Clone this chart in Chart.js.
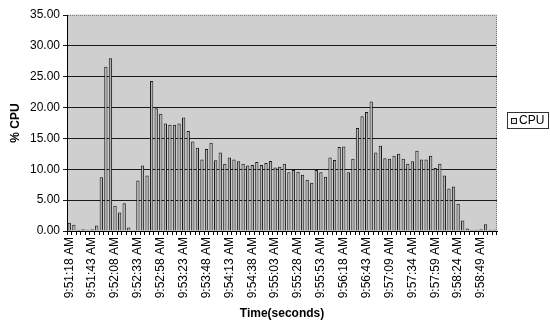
<!DOCTYPE html>
<html>
<head>
<meta charset="utf-8">
<script src="https://cdn.jsdelivr.net/npm/chart.js@4/dist/chart.umd.min.js"></script>
<style>
  html, body { margin: 0; padding: 0; background: #ffffff; }
  #wrap { width: 550px; height: 323px; }
</style>
</head>
<body>
<div id="wrap"><canvas id="cpuChart" width="550" height="323"></canvas></div>
<script>
// Sample timestamps (one sample every ~5 seconds)
const categories = [
  "9:51:18 AM","9:51:23 AM","9:51:28 AM","9:51:33 AM","9:51:38 AM",
  "9:51:43 AM","9:51:48 AM","9:51:53 AM","9:51:58 AM","9:52:03 AM",
  "9:52:08 AM","9:52:13 AM","9:52:18 AM","9:52:23 AM","9:52:28 AM",
  "9:52:33 AM","9:52:38 AM","9:52:43 AM","9:52:48 AM","9:52:53 AM",
  "9:52:58 AM","9:53:03 AM","9:53:08 AM","9:53:13 AM","9:53:18 AM",
  "9:53:23 AM","9:53:28 AM","9:53:33 AM","9:53:38 AM","9:53:43 AM",
  "9:53:48 AM","9:53:53 AM","9:53:58 AM","9:54:03 AM","9:54:08 AM",
  "9:54:13 AM","9:54:18 AM","9:54:23 AM","9:54:28 AM","9:54:33 AM",
  "9:54:38 AM","9:54:43 AM","9:54:48 AM","9:54:53 AM","9:54:58 AM",
  "9:55:03 AM","9:55:08 AM","9:55:13 AM","9:55:18 AM","9:55:23 AM",
  "9:55:28 AM","9:55:33 AM","9:55:38 AM","9:55:43 AM","9:55:48 AM",
  "9:55:53 AM","9:55:58 AM","9:56:03 AM","9:56:08 AM","9:56:13 AM",
  "9:56:18 AM","9:56:23 AM","9:56:28 AM","9:56:33 AM","9:56:38 AM",
  "9:56:43 AM","9:56:49 AM","9:56:54 AM","9:56:59 AM","9:57:04 AM",
  "9:57:09 AM","9:57:14 AM","9:57:19 AM","9:57:24 AM","9:57:29 AM",
  "9:57:34 AM","9:57:39 AM","9:57:44 AM","9:57:49 AM","9:57:54 AM",
  "9:57:59 AM","9:58:04 AM","9:58:09 AM","9:58:14 AM","9:58:19 AM",
  "9:58:24 AM","9:58:29 AM","9:58:34 AM","9:58:39 AM","9:58:44 AM",
  "9:58:49 AM","9:58:54 AM","9:58:59 AM","9:59:04 AM"
];

// % CPU per sample
const cpuValues = [
  1.35, 1.0, 0.2, 0.3, 0.2, 0.3, 0.9, 8.7, 26.6, 28.0,
  4.1, 3.0, 4.5, 0.55, 0.1, 8.2, 10.6, 9.0, 24.3, 19.9,
  19.0, 17.4, 17.2, 17.2, 17.4, 18.4, 16.2, 14.5, 13.5, 11.6,
  13.3, 14.3, 11.45, 12.7, 10.9, 11.9, 11.6, 11.3, 10.9, 10.6,
  10.7, 11.2, 10.7, 11.0, 11.35, 10.3, 10.4, 10.9, 9.5, 9.9,
  9.6, 9.1, 8.3, 7.8, 9.9, 9.5, 8.8, 11.9, 11.5, 13.6,
  13.7, 9.5, 11.7, 16.7, 18.6, 19.3, 21.0, 12.7, 13.8, 11.8,
  11.7, 12.2, 12.5, 11.7, 10.9, 11.3, 13.0, 11.6, 11.6, 12.2,
  10.2, 10.9, 9.0, 6.9, 7.2, 4.4, 1.7, 0.4, 0.2, 0.2,
  0.3, 1.1, 0.2, 0.2
];

// Time labels printed under the axis
const tickLabels = [
  "9:51:18 AM","9:51:43 AM","9:52:08 AM","9:52:33 AM","9:52:58 AM",
  "9:53:23 AM","9:53:48 AM","9:54:13 AM","9:54:38 AM","9:55:03 AM",
  "9:55:28 AM","9:55:53 AM","9:56:18 AM","9:56:43 AM","9:57:09 AM",
  "9:57:34 AM","9:57:59 AM","9:58:24 AM","9:58:49 AM"
];

const seriesName = "CPU";
const FONT = "'Liberation Sans', Arial, sans-serif";
const PLOT_BG = "#cfcfcf";

// Gray plot background, dotted top/right frame
const plotFrame = {
  id: 'plotFrame',
  beforeDraw(chart) {
    const { ctx, chartArea: a } = chart;
    ctx.save();
    ctx.fillStyle = PLOT_BG;
    ctx.fillRect(a.left, a.top, a.right - a.left, a.bottom - a.top);
    ctx.restore();
  },
  beforeDatasetsDraw(chart) {
    const { ctx, chartArea: a } = chart;
    ctx.save();
    // replace the solid top grid line with a light dotted frame line
    ctx.strokeStyle = PLOT_BG;
    ctx.lineWidth = 2;
    ctx.beginPath();
    ctx.moveTo(a.left + 1, a.top + 0.5);
    ctx.lineTo(a.right, a.top + 0.5);
    ctx.stroke();
    ctx.strokeStyle = "#7a7a7a";
    ctx.lineWidth = 1;
    ctx.setLineDash([1, 1]);
    ctx.beginPath();
    ctx.moveTo(a.left + 1, a.top + 0.5);
    ctx.lineTo(a.right - 0.5, a.top + 0.5);
    ctx.lineTo(a.right - 0.5, a.bottom);
    ctx.stroke();
    ctx.restore();
  }
};

// Boxed legend on the right
const boxLegend = {
  id: 'boxLegend',
  afterDraw(chart) {
    const { ctx } = chart;
    const ds = chart.data.datasets[0];
    const x = 507, y = 112, w = 42, h = 17;
    ctx.save();
    ctx.fillStyle = "#ffffff";
    ctx.fillRect(x, y, w, h);
    ctx.strokeStyle = "#333333";
    ctx.lineWidth = 1;
    ctx.strokeRect(x + 0.5, y + 0.5, w - 1, h - 1);
    // swatch
    ctx.fillStyle = "#e8e8e8";
    ctx.fillRect(x + 4, y + 6, 6, 6);
    ctx.strokeStyle = ds.borderColor;
    ctx.strokeRect(x + 4.5, y + 6.5, 5, 5);
    ctx.fillStyle = "#000000";
    ctx.font = "12px " + FONT;
    ctx.textBaseline = "middle";
    ctx.fillText(ds.label, x + 12, y + h / 2 + 0.5);
    ctx.restore();
  }
};

new Chart(document.getElementById('cpuChart'), {
  type: 'bar',
  data: {
    labels: categories,
    datasets: [{
      label: seriesName,
      data: cpuValues,
      backgroundColor: "#b4b4b4",
      borderColor: "#1a1a1a",
      borderWidth: 1,
      borderSkipped: 'bottom',
      barPercentage: 0.72,
      categoryPercentage: 1.0
    }]
  },
  options: {
    responsive: false,
    animation: false,
    devicePixelRatio: 1,
    layout: { padding: { left: 0, right: 53, top: 15, bottom: 0 } },
    plugins: {
      legend: { display: false },
      tooltip: { enabled: false }
    },
    scales: {
      x: {
        grid: {
          offset: true,
          drawOnChartArea: false,
          drawTicks: true,
          tickLength: 4,
          color: "#000000"
        },
        border: { color: "#000000", width: 1 },
        ticks: {
          autoSkip: false,
          maxRotation: 90,
          minRotation: 90,
          padding: 2,
          color: "#000000",
          font: { family: FONT, size: 12 },
          callback: function (value, index) {
            const lbl = categories[index];
            return tickLabels.includes(lbl) ? lbl : '';
          }
        },
        title: {
          display: true,
          text: "Time(seconds)",
          color: "#000000",
          font: { family: FONT, size: 12, weight: 'bold' },
          padding: { top: 6, bottom: 2 }
        },
        afterFit(scale) { scale.height = 92; }
      },
      y: {
        min: 0,
        max: 35,
        ticks: {
          stepSize: 5,
          padding: 3,
          color: "#000000",
          font: { family: FONT, size: 12 },
          callback: v => Number(v).toFixed(2)
        },
        grid: {
          color: "#1a1a1a",
          lineWidth: 1,
          drawTicks: true,
          tickLength: 4
        },
        border: { color: "#000000", width: 1 },
        title: {
          display: true,
          text: "% CPU",
          color: "#000000",
          font: { family: FONT, size: 12, weight: 'bold' },
          padding: { top: 8, bottom: 4 }
        },
        afterFit(scale) { scale.width = 67; }
      }
    }
  },
  plugins: [plotFrame, boxLegend]
});
</script>
</body>
</html>
